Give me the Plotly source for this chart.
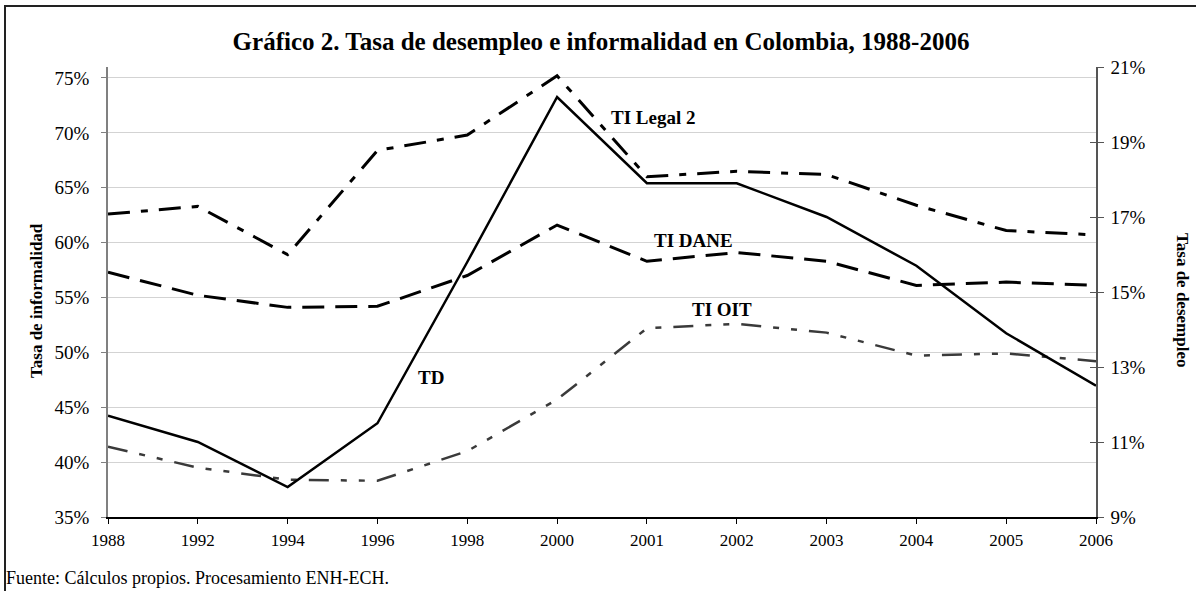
import plotly.graph_objects as go

years = ["1988", "1992", "1994", "1996", "1998", "2000", "2001", "2002", "2003", "2004", "2005", "2006"]
td = [11.7, 11.0, 9.8, 11.5, 15.8, 20.2, 17.9, 17.9, 17.0, 15.7, 13.9, 12.5]
ti_legal2 = [62.6, 63.3, 58.9, 68.4, 69.8, 75.2, 66.0, 66.5, 66.2, 63.4, 61.1, 60.7]
ti_dane = [57.3, 55.2, 54.1, 54.2, 57.0, 61.6, 58.3, 59.1, 58.3, 56.1, 56.4, 56.1]
ti_oit = [41.4, 39.5, 38.4, 38.3, 41.0, 45.7, 52.2, 52.6, 51.8, 49.7, 49.9, 49.2]

left_ticks = [35, 40, 45, 50, 55, 60, 65, 70, 75]
left_labels = ["35%", "40%", "45%", "50%", "55%", "60%", "65%", "70%", "75%"]
right_ticks = [9, 11, 13, 15, 17, 19, 21]
right_labels = ["9%", "11%", "13%", "15%", "17%", "19%", "21%"]

FONT = "Liberation Serif, Times New Roman, serif"

fig = go.Figure()
fig.add_trace(go.Scatter(x=years, y=ti_legal2, mode="lines", name="TI Legal 2",
                         line=dict(color="black", width=3, dash="22px,11px,7px,11px")))
fig.add_trace(go.Scatter(x=years, y=ti_dane, mode="lines", name="TI DANE",
                         line=dict(color="black", width=3, dash="22px,11px")))
fig.add_trace(go.Scatter(x=years, y=ti_oit, mode="lines", name="TI OIT",
                         line=dict(color="#3a3a3a", width=2.5, dash="20px,12px,6px,12px,6px,12px")))
fig.add_trace(go.Scatter(x=years, y=td, mode="lines", name="TD", yaxis="y2",
                         line=dict(color="black", width=2.5)))
# invisible trace to carry the inner right ticks
fig.add_trace(go.Scatter(x=years, y=td, mode="lines", yaxis="y3", showlegend=False,
                         hoverinfo="skip", line=dict(color="rgba(0,0,0,0)", width=0)))

fig.update_layout(
    width=1196, height=591,
    margin=dict(l=108, r=100, t=67, b=74),
    paper_bgcolor="white", plot_bgcolor="white",
    showlegend=False,
    font=dict(family=FONT, color="black"),
    title=dict(text="<b>Gráfico 2. Tasa de desempleo e informalidad en Colombia, 1988-2006</b>",
               x=(601 / 1196), xanchor="center", y=1 - 41 / 591, yanchor="middle",
               font=dict(family=FONT, size=25, color="black")),
    xaxis=dict(type="category", range=[0, 11], showgrid=False, showline=True,
               linecolor="black", linewidth=1.5, ticks="outside", ticklen=5,
               tickcolor="black", tickfont=dict(family=FONT, size=17, color="black"),
               ticklabelstandoff=2, zeroline=False),
    yaxis=dict(range=[35, 76], tickmode="array", tickvals=left_ticks, ticktext=left_labels,
               showgrid=True, gridcolor="#d3d3d3", gridwidth=1,
               showline=True, linecolor="#808080", linewidth=1.5,
               ticks="outside", ticklen=5, tickcolor="#808080",
               tickfont=dict(family=FONT, size=19, color="black"),
               ticklabelstandoff=8, zeroline=False),
    yaxis2=dict(range=[9, 21], tickmode="array", tickvals=right_ticks, ticktext=right_labels,
                overlaying="y", side="right", showgrid=False,
                showline=True, linecolor="#555555", linewidth=1.5,
                ticks="outside", ticklen=6, tickcolor="#555555",
                tickfont=dict(family=FONT, size=19, color="black"),
                ticklabelstandoff=3, zeroline=False),
    yaxis3=dict(range=[9, 21], tickmode="array", tickvals=right_ticks, overlaying="y",
                side="right", showgrid=False, showline=False, ticks="inside", ticklen=6,
                tickcolor="#555555", showticklabels=False, zeroline=False),
)

# Series labels
labels = [
    ("TI Legal 2", 6.07, 71.4),
    ("TI DANE", 6.52, 60.15),
    ("TI OIT", 6.84, 53.9),
    ("TD", 3.6, 47.7),
]
for text, xi, yv in labels:
    fig.add_annotation(text=f"<b>{text}</b>", x=xi, y=yv, xref="x", yref="y",
                       xanchor="center", yanchor="middle",
                       showarrow=False, font=dict(family=FONT, size=19, color="black"))

# Axis titles
fig.add_annotation(text="<b>Tasa de informalidad</b>", textangle=-90,
                   x=(36 - 108) / 988, y=(517 - 301) / 450, xref="paper", yref="paper",
                   xanchor="center", yanchor="middle",
                   showarrow=False, font=dict(family=FONT, size=17, color="black"))
fig.add_annotation(text="<b>Tasa de desempleo</b>", textangle=90,
                   x=(1183 - 108) / 988, y=(517 - 300) / 450, xref="paper", yref="paper",
                   xanchor="center", yanchor="middle",
                   showarrow=False, font=dict(family=FONT, size=17, color="black"))

# Footer
fig.add_annotation(text="Fuente: Cálculos propios. Procesamiento ENH-ECH.",
                   x=(4 - 108) / 988, y=(517 - 578) / 450, xref="paper", yref="paper",
                   xanchor="left", yanchor="middle", showarrow=False,
                   font=dict(family=FONT, size=18, color="black"))

# Outer border
fig.add_shape(type="rect", xref="paper", yref="paper",
              x0=(5 - 108) / 988, x1=(1205 - 108) / 988,
              y0=(517 - 600) / 450, y1=(517 - 6) / 450,
              line=dict(color="#222222", width=2), fillcolor="rgba(0,0,0,0)", layer="below")

fig.write_html("out.html", config={"displayModeBar": False},
               post_script="document.body.style.margin='0';document.body.style.overflow='hidden';")
